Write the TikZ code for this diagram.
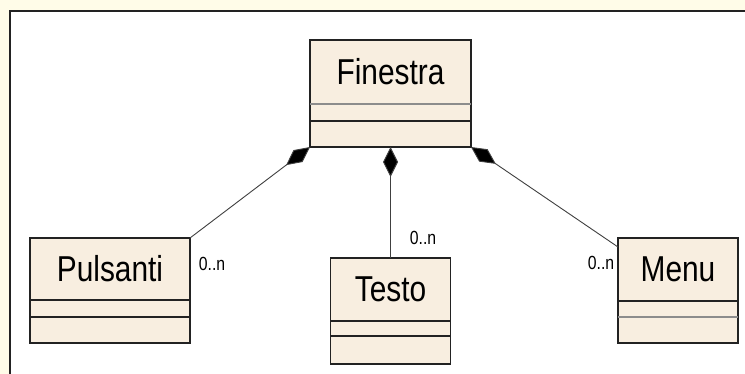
\documentclass[tikz,border=0pt]{standalone}
\usepackage{fontspec}
\newfontfamily\umlfont[FakeStretch=0.83]{Liberation Sans}
\usetikzlibrary{positioning, arrows.meta}
\definecolor{classfill}{RGB}{248,238,224}
\definecolor{pagebg}{RGB}{255,252,232}
\definecolor{boxline}{RGB}{34,34,34}
\tikzstyle{compo} = [line width=0.9pt, draw=black!75, {Diamond[length=30pt,width=15pt,fill=black]}-]
\tikzstyle{classname} = [rectangle, outer sep=0pt, inner sep=0pt, text centered, draw=boxline, line width=1.3pt, fill=classfill, font=\umlfont\fontsize{36}{40}\selectfont]
\tikzstyle{classpart} = [rectangle, outer sep=0pt, inner sep=0pt, draw=boxline, line width=1.3pt, fill=classfill]
\tikzstyle{mult} = [inner sep=0pt, font=\umlfont\fontsize{19}{22}\selectfont]
\tikzstyle{sepgrey} = [line width=1.5pt, draw=black!45]

\begin{document}
\begin{tikzpicture}[x=1pt, y=1pt, node distance=197pt]
\fill[pagebg] (0,0) rectangle (745,-374);
\begin{scope}
\clip (0,0) rectangle (745,-374);
\filldraw[fill=white, draw=boxline, line width=2.2pt] (10,-11) rectangle (760,-390);
\end{scope}
\useasboundingbox (0,0) rectangle (745,-374);

\node (fin) [classname, minimum width=161pt, minimum height=64pt] at (390.5,-72) {Finestra};
\node (finattr) [classpart, below=0pt of fin, minimum width=161pt, minimum height=17pt] {};
\node (finops) [classpart, below=0pt of finattr, minimum width=161pt, minimum height=26pt] {};

\node (pul) [classname, below of=fin, xshift=-280.5pt, minimum width=160pt, minimum height=62pt] {Pulsanti};
\node (pulattr) [classpart, below=0pt of pul, minimum width=160pt, minimum height=17pt] {};
\node (pulops) [classpart, below=0pt of pulattr, minimum width=160pt, minimum height=26pt] {};

\node (tes) [classname, below of=fin, yshift=-20.5pt, minimum width=120pt, minimum height=63pt] {Testo};
\node (tesattr) [classpart, below=0pt of tes, minimum width=120pt, minimum height=15pt] {};
\node (tesops) [classpart, below=0pt of tesattr, minimum width=120pt, minimum height=28pt] {};

\node (men) [classname, below of=fin, xshift=287.5pt, yshift=-0.5pt, minimum width=120pt, minimum height=63pt] {Menu};
\node (menattr) [classpart, below=0pt of men, minimum width=120pt, minimum height=16pt] {};
\node (menops) [classpart, below=0pt of menattr, minimum width=120pt, minimum height=26pt] {};

\draw[sepgrey] (fin.south west) -- (fin.south east);
\draw[sepgrey] (menattr.south west) -- (menattr.south east);

\draw [compo] (finops.south west) -- (pul.north east);
\draw [compo] (finops.south) -- (tes.north);
\draw [compo] (finops.south east) -- ([yshift=-9pt]men.north west);

\node (pulmult) [mult] at ([xshift=22pt, yshift=-26pt]pul.north east) {0..n};
\node (tesmult) [mult] at ([xshift=32.5pt, yshift=20pt]tes.north) {0..n};
\node (menmult) [mult] at ([xshift=-17pt, yshift=-25pt]men.north west) {0..n};

\end{tikzpicture}
\end{document}
